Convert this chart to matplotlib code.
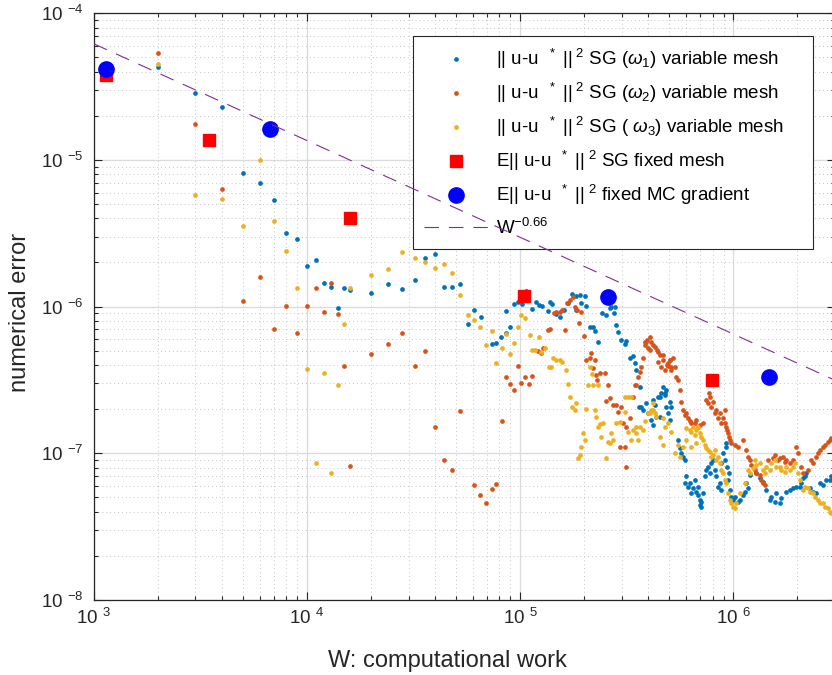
"""Work vs. numerical error, SG variable mesh vs fixed mesh / MC gradient."""
import numpy as np
import matplotlib
matplotlib.use("Agg")
import matplotlib.pyplot as plt
from matplotlib.ticker import FuncFormatter, LogLocator, NullFormatter

plt.rcParams.update({
    "font.family": ["Liberation Sans", "DejaVu Sans"],
    "mathtext.fontset": "custom",
    "mathtext.rm": "Liberation Sans",
    "mathtext.it": "Liberation Sans:italic",
    "mathtext.bf": "Liberation Sans:bold",
})

# ---- data (dot series stored as log10 W, log10 error) ----
# early iterations: W = 2000..16000 step 1000, then 20000..52000 step 4000
lgW_early = [3.301, 3.477, 3.602, 3.699, 3.778, 3.845, 3.903, 3.954, 4.000, 4.041,
             4.079, 4.114, 4.146, 4.176, 4.204, 4.301, 4.380, 4.447, 4.505, 4.556,
             4.602, 4.643, 4.681, 4.716]
lgE_w1_early = [-4.364, -4.541, -4.637, -5.087, -5.159, -5.275, -5.496, -5.539, -5.721, -5.680,
                -5.838, -5.868, -6.009, -5.871, -5.884, -5.909, -5.843, -5.879, -5.818, -5.666,
                -5.639, -5.868, -5.868, -5.843]
lgE_w2_early = [-4.273, -4.753, -5.200, -5.959, -5.800, -6.152, -5.995, -6.181, -5.995, -5.871,
                -6.036, -5.840, -6.052, -6.406, -7.088, -6.325, -6.254, -6.181, -6.406, -6.304,
                -6.820, -7.043, -7.113, -6.709]
lgE_w3_early = [-4.344, -5.239, -5.266, -5.450, -4.998, -5.414, -5.618, -5.875, -6.427, -7.068,
                -6.454, -7.132, -6.534, -6.118, -5.873, -5.782, -5.745, -5.629, -5.670, -5.695,
                -5.734, -5.709, -5.768, -5.920]

# later iterations (log10 W, log10 error)
w1_late = [
    (4.756, -6.120), (4.786, -6.022), (4.819, -6.068), (4.866, -6.255), (4.889, -6.245),
    (4.909, -6.209), (4.933, -6.182), (4.933, -6.027), (4.953, -6.141), (4.972, -5.980),
    (4.991, -5.966), (5.009, -5.984), (5.027, -5.891), (5.056, -6.014), (5.074, -5.970),
    (5.089, -5.986), (5.105, -5.995), (5.131, -6.032), (5.142, -5.970), (5.152, -5.980),
    (5.167, -6.050), (5.186, -6.073), (5.205, -6.023), (5.225, -5.977), (5.245, -5.916),
    (5.264, -5.927), (5.264, -6.023), (5.280, -5.920), (5.288, -5.973), (5.303, -5.925),
    (5.311, -5.995), (5.327, -6.141), (5.342, -6.136), (5.350, -6.166), (5.366, -6.239),
    (5.384, -6.045), (5.405, -6.057), (5.421, -6.011), (5.428, -6.005), (5.439, -6.041),
    (5.444, -6.000), (5.452, -6.125), (5.459, -6.170), (5.475, -6.227), (5.491, -6.255),
    (5.499, -6.232), (5.514, -6.352), (5.530, -6.336), (5.538, -6.386), (5.545, -6.432),
    (5.561, -6.545), (5.558, -6.682), (5.569, -6.681), (5.577, -6.705), (5.592, -6.658),
    (5.600, -6.727), (5.616, -6.773), (5.624, -6.806), (5.639, -6.750), (5.647, -6.613),
    (5.655, -6.613), (5.671, -6.545), (5.678, -6.590), (5.686, -6.681), (5.694, -6.727),
    (5.702, -6.647), (5.741, -6.908), (5.764, -7.022), (5.772, -7.204), (5.803, -7.272),
    (5.842, -7.318), (5.850, -7.363), (5.858, -7.272), (5.874, -7.113), (5.905, -7.045),
    (5.928, -7.227), (5.944, -7.068), (5.964, -6.931), (5.980, -7.136), (5.999, -7.318),
    (6.022, -7.329), (6.053, -7.261), (6.077, -7.147), (6.108, -7.136), (6.139, -7.193),
    (6.171, -7.318), (6.202, -7.272), (6.217, -7.340), (6.249, -7.261), (6.280, -7.238),
    (6.311, -7.227), (6.327, -7.170), (6.342, -7.136), (6.374, -7.261), (6.405, -7.204),
    (6.436, -7.181), (6.460, -7.158),
    (5.624, -6.636), (5.631, -6.670), (5.663, -6.590), (5.678, -6.602), (5.686, -6.568),
    (5.655, -6.750), (5.702, -6.772), (5.710, -6.681), (5.749, -6.965), (5.756, -6.999),
    (5.772, -7.045), (5.780, -7.158), (5.788, -7.227), (5.795, -7.204), (5.811, -7.238),
    (5.819, -7.181), (5.827, -7.261), (5.835, -7.284), (5.835, -7.227), (5.842, -7.352),
    (5.850, -7.329), (5.866, -7.158), (5.881, -7.090), (5.889, -7.136), (5.897, -7.068),
    (5.913, -7.113), (5.920, -7.158), (5.936, -7.204), (5.944, -7.249), (5.952, -6.999),
    (5.960, -7.045), (5.967, -6.954), (5.970, -7.090), (5.975, -7.181), (5.983, -7.249),
    (5.991, -7.295), (6.006, -7.295), (6.030, -7.318), (6.045, -7.284), (6.061, -7.204),
    (6.069, -7.238), (6.124, -7.170), (6.155, -7.249), (6.178, -7.295), (6.194, -7.329),
    (6.225, -7.306), (6.264, -7.249), (6.296, -7.227), (6.319, -7.204), (6.335, -7.158),
    (6.358, -7.238), (6.389, -7.272), (6.420, -7.215), (6.452, -7.181),
]
w2_late = [
    (4.786, -7.218), (4.814, -7.282), (4.841, -7.341), (4.866, -7.241), (4.889, -7.207),
    (4.913, -6.777), (4.933, -6.482), (4.952, -6.527), (4.972, -6.568), (4.991, -6.405),
    (5.006, -6.518), (5.025, -6.482), (5.041, -6.530), (5.056, -6.473), (5.084, -6.302),
    (5.100, -6.318), (5.108, -6.284), (5.131, -6.159), (5.139, -6.150), (5.158, -6.045),
    (5.170, -6.034), (5.186, -6.034), (5.198, -6.023), (5.209, -6.159), (5.220, -5.973),
    (5.233, -5.955), (5.248, -5.932), (5.256, -6.000), (5.267, -6.023), (5.274, -6.114),
    (5.288, -6.034), (5.299, -6.200), (5.311, -6.364), (5.327, -6.352), (5.334, -6.318),
    (5.350, -6.364), (5.342, -6.420), (5.358, -6.466), (5.361, -6.500), (5.374, -6.450),
    (5.397, -6.455), (5.413, -6.534), (5.405, -6.641), (5.420, -6.625), (5.436, -6.670),
    (5.452, -6.670), (5.459, -6.716), (5.475, -6.682), (5.483, -6.795), (5.499, -6.818),
    (5.514, -6.761), (5.467, -6.955), (5.491, -6.959), (5.499, -7.090), (5.530, -6.614),
    (5.538, -6.534), (5.545, -6.534), (5.554, -6.477), (5.562, -6.443), (5.569, -6.409),
    (5.577, -6.352), (5.585, -6.239), (5.592, -6.239), (5.601, -6.284), (5.608, -6.205),
    (5.624, -6.261), (5.640, -6.295), (5.655, -6.330), (5.663, -6.409), (5.671, -6.364),
    (5.687, -6.398), (5.702, -6.364), (5.710, -6.432), (5.718, -6.352), (5.726, -6.409),
    (5.733, -6.477), (5.741, -6.499), (5.749, -6.568), (5.756, -6.647), (5.764, -6.704),
    (5.780, -6.727), (5.795, -6.783), (5.819, -6.795), (5.842, -6.806), (5.858, -6.795),
    (5.881, -6.658), (5.889, -6.613), (5.897, -6.681), (5.913, -6.727), (5.928, -6.761),
    (5.944, -6.795), (5.960, -6.704), (5.967, -6.818), (5.975, -6.863), (5.983, -6.908),
    (6.006, -6.943), (6.022, -6.958), (6.045, -6.908), (6.061, -6.977), (6.077, -7.045),
    (6.100, -7.113), (6.124, -7.147), (6.139, -7.204), (6.163, -7.045), (6.186, -7.034),
    (6.210, -7.045), (6.233, -7.022), (6.249, -7.045), (6.264, -7.068), (6.296, -6.954),
    (6.319, -7.090), (6.327, -7.136), (6.350, -7.113), (6.374, -7.068), (6.389, -7.022),
    (6.405, -6.977), (6.428, -6.943), (6.452, -6.908),
    (5.647, -6.374), (5.694, -6.408), (5.702, -6.363), (5.874, -6.636), (5.886, -6.590),
    (5.905, -6.647), (5.920, -6.704), (5.936, -6.727), (5.952, -6.761), (5.960, -6.795),
    (5.970, -6.840), (5.980, -6.886), (5.991, -6.931), (5.772, -6.738), (5.788, -6.761),
    (5.803, -6.795), (5.827, -6.772), (5.835, -6.818), (6.069, -7.022), (6.085, -7.079),
    (6.108, -7.136), (6.131, -7.181), (6.147, -7.215), (6.194, -7.011), (6.217, -7.034),
    (6.241, -7.056), (6.280, -7.045), (6.303, -6.999), (6.366, -7.045), (6.397, -6.999),
    (6.420, -6.954), (6.444, -6.920), (6.460, -6.897), (5.593, -6.227), (5.616, -6.239),
    (5.632, -6.273), (5.647, -6.307), (5.671, -6.330), (5.694, -6.386), (5.710, -6.409),
    (5.679, -6.432), (5.584, -6.261), (5.608, -6.295),
]
w3_late = [
    (4.756, -6.054), (4.786, -6.093), (4.814, -6.136), (4.842, -6.261), (4.866, -6.164),
    (4.889, -6.382), (4.913, -6.284), (4.933, -6.186), (4.952, -6.323), (4.972, -6.245),
    (4.991, -6.141), (5.006, -6.057), (5.025, -6.080), (5.045, -6.193), (5.058, -6.295),
    (5.069, -6.295), (5.089, -6.205), (5.100, -6.307), (5.116, -6.284), (5.136, -6.409),
    (5.147, -6.414), (5.155, -6.352), (5.170, -6.364), (5.186, -6.364), (5.198, -6.375),
    (5.214, -6.432), (5.225, -6.530), (5.233, -6.618), (5.245, -6.682), (5.256, -6.705),
    (5.264, -6.659), (5.272, -7.034), (5.280, -7.011), (5.288, -6.954), (5.295, -6.863),
    (5.311, -6.698), (5.319, -6.533), (5.327, -6.409), (5.338, -6.459), (5.342, -6.534),
    (5.350, -6.705), (5.358, -6.750), (5.366, -6.534), (5.377, -6.800), (5.389, -6.795),
    (5.381, -6.886), (5.405, -7.034), (5.413, -6.920), (5.420, -6.931), (5.428, -6.864),
    (5.452, -6.795), (5.467, -6.784), (5.491, -6.716), (5.491, -6.613), (5.506, -6.614),
    (5.522, -6.613), (5.522, -6.908), (5.530, -6.840), (5.545, -6.864), (5.553, -6.908),
    (5.561, -6.818), (5.577, -6.841), (5.600, -6.727), (5.608, -6.727), (5.616, -6.704),
    (5.624, -6.658), (5.631, -6.727), (5.639, -6.750), (5.655, -6.886), (5.671, -6.761),
    (5.671, -6.943), (5.678, -6.818), (5.694, -6.795), (5.710, -6.852), (5.725, -6.999),
    (5.741, -6.943), (5.749, -7.022), (5.764, -6.954), (5.795, -6.840), (5.811, -6.818),
    (5.827, -6.840), (5.842, -6.863), (5.858, -6.908), (5.874, -6.965), (5.889, -6.988),
    (5.905, -7.011), (5.920, -7.045), (5.936, -7.068), (5.952, -7.136), (5.967, -7.204),
    (5.983, -7.318), (5.999, -7.363), (6.014, -7.340), (6.030, -7.272), (6.053, -7.204),
    (6.077, -7.136), (6.092, -7.102), (6.108, -7.079), (6.139, -7.113), (6.155, -7.090),
    (6.178, -7.068), (6.202, -7.090), (6.225, -7.113), (6.249, -7.090), (6.264, -7.113),
    (6.288, -7.068), (6.311, -7.181), (6.335, -7.227), (6.358, -7.261), (6.381, -7.295),
    (6.405, -7.340), (6.428, -7.363), (6.452, -7.397),
    (5.780, -6.829), (5.803, -6.852), (5.819, -6.874), (5.835, -6.818), (5.850, -6.886),
    (5.866, -6.943), (5.881, -6.977), (5.780, -6.908), (5.803, -6.954), (5.827, -6.931),
    (5.897, -7.022), (5.913, -6.977), (5.928, -7.022), (5.944, -7.113), (5.960, -7.181),
    (5.975, -7.272), (5.991, -7.340), (6.006, -7.374), (6.069, -7.113), (6.100, -7.045),
    (6.124, -7.068), (6.147, -7.136), (6.171, -7.113), (6.194, -7.045), (6.217, -7.090),
    (6.241, -7.124), (6.280, -7.090), (6.303, -7.136), (6.327, -7.249), (6.350, -7.238),
    (6.374, -7.272), (6.397, -7.318), (6.420, -7.340), (6.444, -7.374), (6.460, -7.408),
    (5.303, -6.908), (5.366, -6.818), (5.436, -6.908), (5.506, -6.852), (5.545, -6.818),
    (5.584, -6.783), (5.624, -6.704),
]

# fixed mesh SG (red squares) and fixed MC gradient (blue circles)
W_fixed_mesh = [1.14e3, 3.47e3, 1.60e4, 1.04e5, 7.98e5]
E_fixed_mesh = [3.8e-5, 1.36e-5, 4.0e-6, 1.18e-6, 3.16e-7]
W_mc_grad = [1.14e3, 6.7e3, 2.58e5, 1.47e6]
E_mc_grad = [4.15e-5, 1.63e-5, 1.17e-6, 3.33e-7]

# reference slope W^-0.66 (end points)
W_ref = [1e3, 3e6]
E_ref = [6.2e-5, 3.15e-7]

labels = [
    r'|| u-u $^{\ *}$ ||$^{\ 2}$ SG ($\omega_1$) variable mesh',
    r'|| u-u $^{\ *}$ ||$^{\ 2}$ SG ($\omega_2$) variable mesh',
    r'|| u-u $^{\ *}$ ||$^{\ 2}$ SG ( $\omega_3$) variable mesh',
    r'E|| u-u $^{\ *}$ ||$^{\ 2}$ SG fixed mesh',
    r'E|| u-u $^{\ *}$ ||$^{\ 2}$ fixed MC gradient',
    r'W$^{-0.66}$',
]
dot_colors = ["#0072BD", "#D95319", "#EDB120"]

# ---- figure ----
fig = plt.figure(figsize=(8.32, 6.75), dpi=100)
ax = fig.add_axes([93.7 / 832, 1 - 600 / 675, (835 - 93.7) / 832, (600 - 13.3) / 675])
ax.set_xscale("log")
ax.set_yscale("log")

series = [(lgE_w1_early, w1_late), (lgE_w2_early, w2_late), (lgE_w3_early, w3_late)]
for (early, late), col, lab in zip(series, dot_colors, labels[:3]):
    lw = np.concatenate([lgW_early, [p[0] for p in late]])
    le = np.concatenate([early, [p[1] for p in late]])
    ax.plot(10 ** lw, 10 ** le, ls="none", marker="o", ms=3.4, mfc=col, mec="none",
            label=lab, zorder=3)

ax.plot(W_fixed_mesh, E_fixed_mesh, ls="none", marker="s", ms=8.5, color="#FF0000",
        mec="#FF0000", label=labels[3], zorder=4)
ax.plot(W_mc_grad, E_mc_grad, ls="none", marker="o", ms=11, color="#0000FF",
        mec="#0000FF", label=labels[4], zorder=5)
ax.plot(W_ref, E_ref, color="#7E2F8E", lw=0.8, dashes=(13, 9), label=labels[5], zorder=6)

ax.set_xlim(1e3, 3e6)
ax.set_ylim(1e-8, 1e-4)

def sci(v, pos):
    return f"10 $^{{{int(round(np.log10(v)))}}}$"

for axis in (ax.xaxis, ax.yaxis):
    axis.set_major_locator(LogLocator(base=10, numticks=20))
    axis.set_minor_locator(LogLocator(base=10, subs=np.arange(2, 10), numticks=20))
    axis.set_major_formatter(FuncFormatter(sci))
    axis.set_minor_formatter(NullFormatter())

ax.grid(True, which="major", color="#dcdcdc", lw=1.0, ls="-")
ax.grid(True, which="minor", color="#bdbdbd", lw=0.6, ls=(0, (1.2, 3.5)))
ax.set_axisbelow(True)
ax.tick_params(which="both", direction="in", top=True, right=True, colors="#262626",
               labelsize=13.5, width=0.8)
ax.tick_params(which="major", length=6)
ax.tick_params(which="minor", length=3.2)
ax.tick_params(axis="y", pad=7)
ax.tick_params(axis="x", pad=6)
for s in ax.spines.values():
    s.set_color("#262626")
    s.set_linewidth(0.9)

ax.set_xlabel("W: computational work", fontsize=17, color="#262626")
ax.set_ylabel("numerical error", fontsize=17, color="#262626")
ax.xaxis.set_label_coords(0.4766, -0.104)
ax.xaxis.label.set_va("center")
ax.yaxis.set_label_coords(-0.1, 0.49)
ax.yaxis.label.set_va("center")

leg = ax.legend(loc="upper left",
                bbox_to_anchor=(413 / 832, 1 - 249 / 675, 400 / 832, 213 / 675),
                bbox_transform=fig.transFigure, mode="expand", fontsize=13.5,
                frameon=True, fancybox=False, framealpha=1, edgecolor="#262626",
                borderaxespad=0, handlelength=3.4, handletextpad=0.45, borderpad=0.6,
                labelspacing=0.53)
leg.get_frame().set_linewidth(0.8)

fig.savefig("out.png", dpi=100)
